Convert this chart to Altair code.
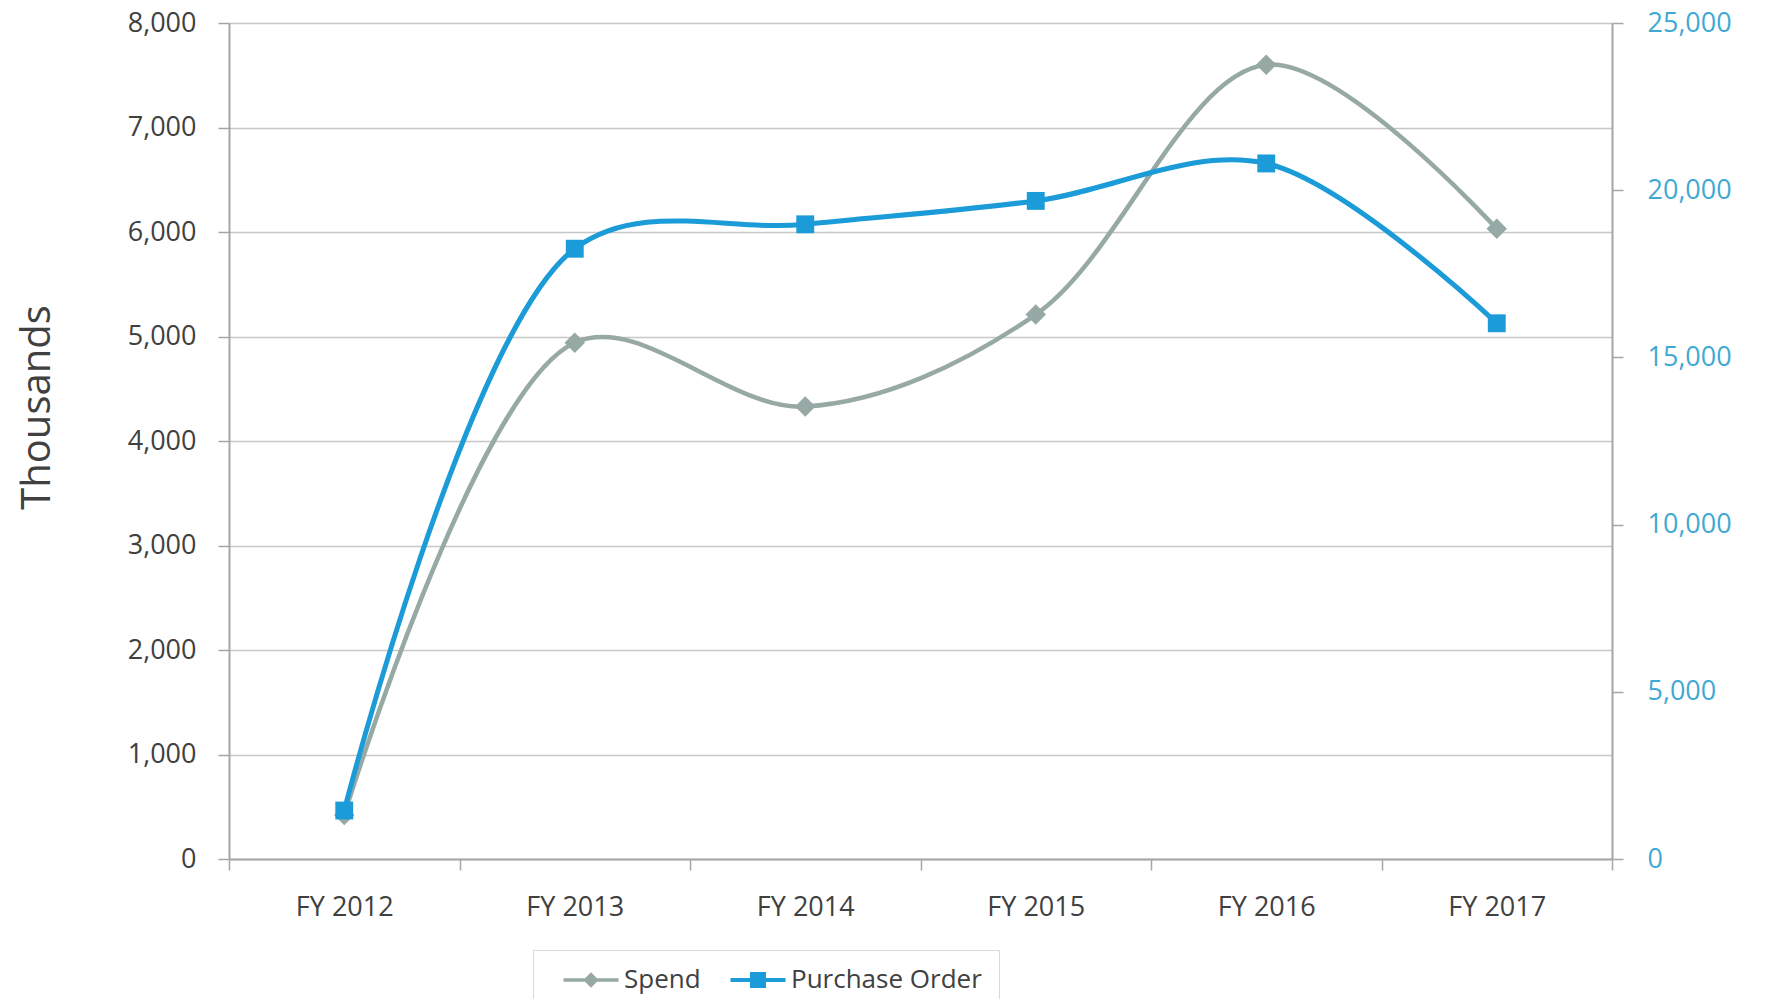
import altair as alt
import pandas as pd

years = ["FY 2012", "FY 2013", "FY 2014", "FY 2015", "FY 2016", "FY 2017"]
spend = [420, 4940, 4330, 5210, 7600, 6030]
purchase_order = [1450, 18250, 18980, 19680, 20800, 16020]
series_names = ["Spend", "Purchase Order"]
left_ticks = [0, 1000, 2000, 3000, 4000, 5000, 6000, 7000, 8000]
right_ticks = [0, 5000, 10000, 15000, 20000, 25000]

df = pd.DataFrame({"year": years, "spend": spend, "po": purchase_order})
leg = pd.DataFrame({"series": series_names, "year": [years[0], years[1]]})

FONT = "Open Sans"
TXT = "#404040"
SPEND_C = "#97a9a4"
PO_C = "#1b9bd7"
RIGHT_C = "#3fa9d4"
AX = "#a6a6a6"

x_enc = alt.X(
    "year:N", sort=years, bandPosition=0.5,
    scale=alt.Scale(type="band", paddingInner=0, paddingOuter=0),
    axis=alt.Axis(title=None, tickBand="extent", labelFont=FONT, labelFontSize=27,
                  labelColor=TXT, labelPadding=24, tickSize=11, tickColor=AX,
                  tickWidth=1.5, domainColor=AX, domainWidth=2, labelAngle=0, grid=False),
)

y_left = alt.Y(
    "spend:Q", scale=alt.Scale(domain=[0, 8000], nice=False),
    axis=alt.Axis(title="Thousands", values=left_ticks, format=",d", grid=True,
                  gridColor="#c6c6c6", gridWidth=1.5, domainColor=AX, domainWidth=2,
                  tickColor=AX, tickSize=11, tickWidth=1.5, labelFont=FONT,
                  labelFontSize=27, labelColor=TXT, labelPadding=22, titleFont=FONT,
                  titleFontSize=40, titleFontWeight="normal", titleColor=TXT,
                  titlePadding=70, titleY=384),
)

y_right = alt.Y(
    "po:Q", scale=alt.Scale(domain=[0, 25000], nice=False),
    axis=alt.Axis(title=None, orient="right", values=right_ticks, format=",d", grid=False,
                  domainColor=AX, domainWidth=2, tickColor=AX, tickSize=11, tickWidth=1.5,
                  labelFont=FONT, labelFontSize=27, labelColor=RIGHT_C, labelPadding=24),
)

base = alt.Chart(df)
spend_line = base.mark_line(interpolate="catmull-rom", color=SPEND_C, strokeWidth=4.5).encode(x=x_enc, y=y_left)
spend_pts = base.mark_point(shape="diamond", filled=True, color=SPEND_C, size=420, opacity=1).encode(x=x_enc, y=y_left)

leg_props = dict(title=None, orient="none", legendX=304, legendY=927, direction="horizontal",
                 strokeColor="#d9d9d9", fillColor="#ffffff", padding=17, symbolSize=484,
                 symbolStrokeWidth=0, symbolOffset=28, labelFont=FONT, labelFontSize=26,
                 labelColor=TXT, columnPadding=16, labelOffset=20, labelLimit=500)
shape_paths = [
    "M-2.5,-0.17L2.5,-0.17L2.5,0.17L-2.5,0.17Z M0,-0.7L0.7,0L0,0.7L-0.7,0Z",
    "M-2.5,-0.19L2.5,-0.19L2.5,0.19L-2.5,0.19Z M-0.73,-0.73L0.73,-0.73L0.73,0.73L-0.73,0.73Z",
]
legend_layer = alt.Chart(leg).transform_filter("datum.series == 'none'").mark_point(filled=True, opacity=1).encode(
    x=alt.X("year:N", sort=years, bandPosition=0.5),
    color=alt.Color("series:N", scale=alt.Scale(domain=series_names, range=[SPEND_C, PO_C]),
                    legend=alt.Legend(**leg_props)),
    shape=alt.Shape("series:N", scale=alt.Scale(domain=series_names, range=shape_paths),
                    legend=alt.Legend(**leg_props)),
)

po_line = base.mark_line(interpolate="catmull-rom", color=PO_C, strokeWidth=5).encode(x=x_enc, y=y_right)
po_pts = base.mark_point(shape="square", filled=True, color=PO_C, size=320, opacity=1).encode(x=x_enc, y=y_right)

left = alt.layer(spend_line, spend_pts, legend_layer)
right = alt.layer(po_line, po_pts)

chart = alt.layer(left, right).resolve_scale(y="independent").properties(
    width=1383, height=836,
    padding={"left": 221, "top": 15, "right": 140, "bottom": 140},
    autosize="none",
).configure_view(stroke=None)

chart.save("out.html", embed_options={"renderer": "svg", "actions": False})
